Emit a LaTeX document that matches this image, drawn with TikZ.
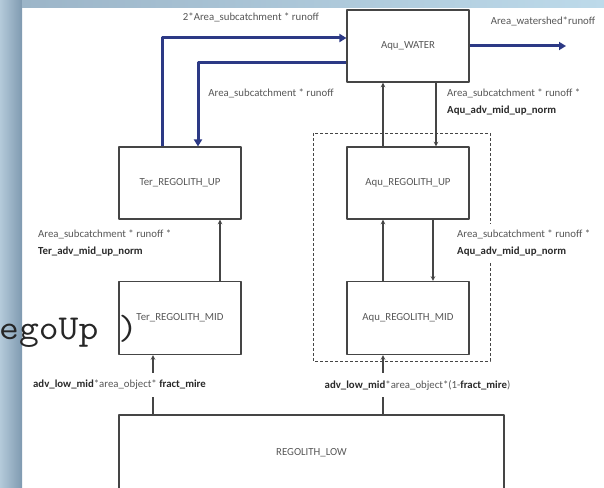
\documentclass[tikz,border=0pt]{standalone}
\usepackage{fontspec}
\setmainfont{Carlito}
\usetikzlibrary{arrows.meta}
\definecolor{textgray}{HTML}{575757}
\definecolor{textdark}{HTML}{2A2A2A}
\definecolor{boxgray}{HTML}{454545}
\definecolor{navy}{HTML}{2C3985}
\definecolor{bgA}{HTML}{B4CADA}
\definecolor{bgB}{HTML}{7F9AB0}
\definecolor{bgC}{HTML}{9CB5C8}
\definecolor{bgD}{HTML}{BDDAEA}
\begin{document}
\begin{tikzpicture}[x=1pt, y=-1pt, line join=round, >=stealth,
	font=\fontsize{10.8}{17}\selectfont,
	every node/.append style={text=textgray},
	box/.style={draw=boxgray, line width=1.1pt, minimum width=122pt, minimum height=72pt, inner sep=0pt},
	flow/.style={draw=navy, line width=3pt, -{Triangle[length=7pt,width=8pt]}},
	link/.style={draw=boxgray, line width=1.1pt},
	lbl/.style={fill=white, inner sep=1pt, align=left}]
			\def\bk#1{\textbf{\color{textdark}#1}}
			\useasboundingbox (0,0) rectangle (604,487);
			\shade[left color=bgA, right color=bgB] (0,0) rectangle (22,487);
			\shade[left color=bgC, right color=bgD] (22,0) rectangle (604,8);
			\node[anchor=base west, inner sep=0pt, text=black!85, font=\ttfamily\fontsize{35}{35}\selectfont] (cut) at (-1,339) {\scalebox{1.1}[1]{egoUp )}};
			\draw[dashed, dash pattern=on 3pt off 2pt, boxgray, line width=1pt] (313,133) rectangle (490,361);
			\node[box] (water) at (408,46) {Aqu\_WATER};
			\node[box] (terup) at (180,183) {Ter\_REGOLITH\_UP};
			\node[box] (aquup) at (408,183) {Aqu\_REGOLITH\_UP};
			\node[box, minimum height=73pt] (termid) at (180,318) {Ter\_REGOLITH\_MID};
			\node[box, minimum height=73pt] (aqumid) at (408,318) {Aqu\_REGOLITH\_MID};
			\node[box, minimum width=385pt, minimum height=76pt] (low) at (311.5,453) {REGOLITH\_LOW};
			\coordinate (outlet) at (566,46);
			\draw[flow] ([xshift=-18pt]terup.north) |- ([yshift=8pt]water.west);
			\draw[flow] ([yshift=-16pt]water.west) -| ([xshift=18pt]terup.north);
			\draw[flow] (water.east) -- (outlet);
			\foreach \a/\b/\s in {aquup.north/water.south/-25, water.south/aquup.north/28, aqumid.north/aquup.south/-25, aquup.south/aqumid.north/25, termid.north/terup.south/40}
				\draw[link,->] ([xshift=\s pt]\a) -- ([xshift=\s pt]\b);
			\draw[link,->] ([xshift=-27pt]termid.south |- low.north) -- ([xshift=-27pt]termid.south);
			\draw[link,->] ([xshift=-25pt]aqumid.south |- low.north) -- ([xshift=-25pt]aqumid.south);
			\node[lbl] (ltwice) at (251,17) {2*Area\_subcatchment * runoff};
			\node[lbl] (lback) at (271,93) {Area\_subcatchment * runoff};
			\node[lbl] (lout) at (543,21) {Area\_watershed*runoff};
			\node[lbl, anchor=west] (ldown) at (446,102) {Area\_subcatchment * runoff *\\\bk{Aqu\_adv\_mid\_up\_norm}};
			\node[lbl, anchor=west, inner ysep=6pt] (laqu) at (456,243) {Area\_subcatchment * runoff *\\\bk{Aqu\_adv\_mid\_up\_norm}};
			\node[lbl, anchor=west] (lter) at (37,243) {Area\_subcatchment * runoff *\\\bk{Ter\_adv\_mid\_up\_norm}};
			\node[lbl, inner ysep=7pt] (llowter) at (119.5,385) {\bk{adv\_low\_mid}*area\_object* \bk{fract\_mire}};
			\node[lbl, inner ysep=7pt] (llowaqu) at (417.5,385) {\bk{adv\_low\_mid}*area\_object*(1-\bk{fract\_mire})};
		\end{tikzpicture}
\end{document}
